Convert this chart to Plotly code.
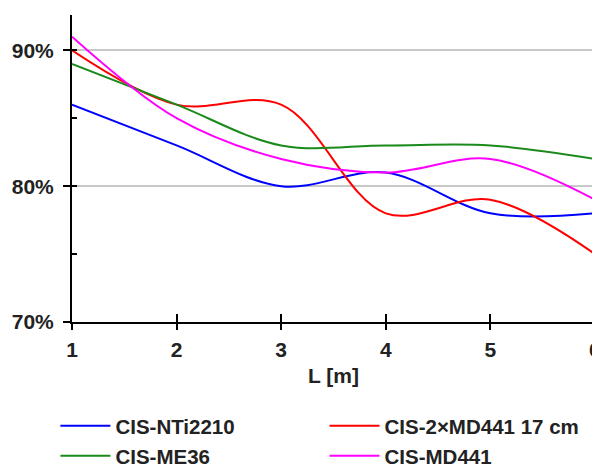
import plotly.graph_objects as go

L = [1, 2, 3, 4, 5, 6]
nti2210 = [86, 83, 80, 81, 78, 78]
md441x2_17cm = [90, 86, 86, 78, 79, 75]
me36 = [89, 86, 83, 83, 83, 82]
md441 = [91, 85, 82, 81, 82, 79]

names = ["CIS-NTi2210", "CIS-2×MD441 17 cm", "CIS-ME36", "CIS-MD441"]
series = [nti2210, md441x2_17cm, me36, md441]
colors = ["#0000ff", "#ff0000", "#1a8a1a", "#ff00ff"]
legends = ["legend", "legend2", "legend3", "legend4"]

y_ticks = [70, 80, 90]
y_labels = [f"{v}%" for v in y_ticks]
x_ticks = [1, 2, 3, 4, 5, 6]

FONT = "Liberation Sans"
TXT = "#222222"
FS = 21
FS_LEG = 20.5

fig = go.Figure()
for n, s, c, lg in zip(names, series, colors, legends):
    fig.add_trace(go.Scatter(x=L, y=s, name=n, mode="lines", legend=lg,
                             line=dict(color=c, width=2, shape="spline", smoothing=1)))
# invisible helper trace for overlay tick axes
fig.add_trace(go.Scatter(x=[L[0]], y=[y_ticks[0]], xaxis="x2", yaxis="y2",
                         mode="markers", marker=dict(opacity=0), showlegend=False,
                         hoverinfo="skip"))

# page body has an 8px offset; plot area targeted at page x 72..595, y 15..322
yr = [70, 92.6]
xr = [1, 6.0005]

def leg(x, y):
    return dict(x=x, y=y, xref="container", yref="container",
                xanchor="left", yanchor="middle", orientation="h",
                bgcolor="rgba(0,0,0,0)", itemwidth=50,
                font=dict(family=FONT, size=FS_LEG, color=TXT, weight="bold"))

fig.update_layout(
    width=600, height=470,
    margin=dict(l=64, r=13, t=7, b=156, autoexpand=False),
    paper_bgcolor="white", plot_bgcolor="white",
    font=dict(family=FONT, size=FS, color=TXT),
    showlegend=True,
    legend=leg(0.079, 0.1106),
    legend2=leg(0.5275, 0.1106),
    legend3=leg(0.079, 0.0468),
    legend4=leg(0.5275, 0.0468),
    xaxis=dict(range=xr, tickvals=x_ticks, showgrid=False, zeroline=False,
               automargin=False,
               showline=True, linecolor="black", linewidth=2,
               ticks="outside", ticklen=6, tickwidth=2, tickcolor="black",
               ticklabelstandoff=2,
               tickfont=dict(family=FONT, size=FS, color=TXT, weight="bold"),
               title=dict(text="L [m]", font=dict(family=FONT, size=FS, color=TXT, weight="bold"),
                          standoff=8)),
    yaxis=dict(range=yr, tickvals=y_ticks, ticktext=y_labels, showgrid=True,
               automargin=False,
               gridcolor="#c8c8c8", gridwidth=1.5, zeroline=False,
               showline=True, linecolor="black", linewidth=2,
               ticks="outside", ticklen=7, tickwidth=2, tickcolor="black",
               ticklabelstandoff=5,
               tickfont=dict(family=FONT, size=FS, color=TXT, weight="bold")),
    xaxis2=dict(overlaying="x", anchor="y", range=xr, tickvals=x_ticks,
                showticklabels=False, showgrid=False, zeroline=False, showline=False,
                ticks="inside", ticklen=8, tickwidth=2, tickcolor="black"),
    yaxis2=dict(overlaying="y", anchor="x", side="left", range=yr, dtick=5, tick0=70,
                showticklabels=False, showgrid=False, zeroline=False, showline=False,
                ticks="inside", ticklen=5, tickwidth=2, tickcolor="black"),
)

fig.write_html("out.html")
